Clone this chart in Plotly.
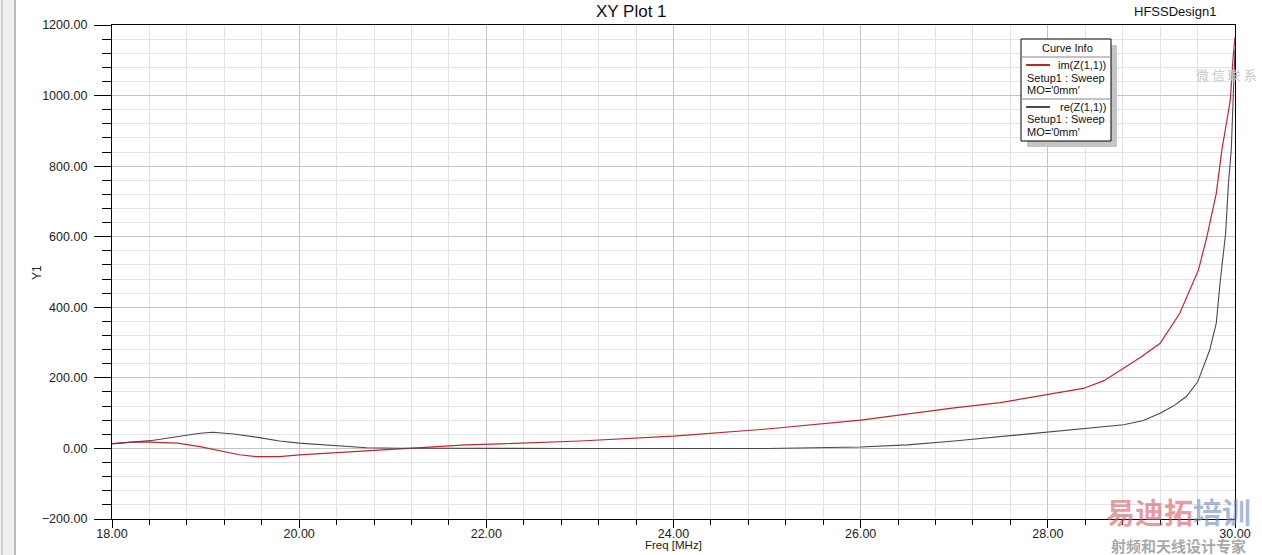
import plotly.graph_objects as go

# ---- data ----
freq_im = [18.0, 18.2, 18.4, 18.7, 18.94, 19.11, 19.36, 19.54, 19.79, 20.0, 20.37, 20.72,
           21.08, 21.43, 21.79, 22.15, 23.0, 24.0, 25.0, 26.0, 27.0, 27.49, 28.0, 28.38,
           28.6, 28.8, 29.0, 29.2, 29.41, 29.61, 29.7, 29.8, 29.86, 29.92, 29.95, 29.98, 30.0]
im_z = [14, 18, 18, 15, 5, -5, -18, -23, -23, -18, -12, -6,
        0, 5, 10, 13, 21, 35, 55, 80, 115, 130, 152, 170,
        192, 225, 260, 298, 383, 506, 600, 723, 846, 940, 988, 1110, 1165]

freq_re = [18.0, 18.2, 18.41, 18.69, 18.94, 19.08, 19.3, 19.54, 19.79, 20.0, 20.37, 20.72,
           21.08, 21.5, 22.0, 23.0, 24.0, 25.0, 26.0, 26.5, 27.0, 27.49, 28.0, 28.4, 28.81,
           29.02, 29.2, 29.34, 29.48, 29.6, 29.73, 29.8, 29.84, 29.9, 29.93, 29.96, 29.98, 30.0]
re_z = [13, 17, 22, 33, 43, 46, 41, 32, 21, 15, 8, 2,
        0.5, 0, 0, 0, 0, 0, 4, 10, 21, 33, 46, 56, 67,
        79, 100, 120, 147, 188, 279, 355, 468, 610, 751, 846, 988, 1130]

x_ticks = [18, 20, 22, 24, 26, 28, 30]
y_ticks = [-200, 0, 200, 400, 600, 800, 1000, 1200]

IM_COLOR = "#c0262d"
RE_COLOR = "#56405e"
FONT = "Liberation Sans, Arial, sans-serif"

W, H = 1262, 555
L, R, T, B = 112, 1235, 25, 519   # plot area in pixels


def px(x):
    return (x - L) / (R - L)


def py(y):
    return (B - y) / (B - T)


fig = go.Figure()
fig.add_trace(go.Scatter(x=freq_im, y=im_z, mode="lines", name="im(Z(1,1))",
                         line=dict(color=IM_COLOR, width=1.2), showlegend=False))
fig.add_trace(go.Scatter(x=freq_re, y=re_z, mode="lines", name="re(Z(1,1))",
                         line=dict(color=RE_COLOR, width=1.1), showlegend=False))

fig.update_layout(
    width=W, height=H,
    margin=dict(l=L, r=W - R, t=T, b=H - B, pad=0, autoexpand=False),
    paper_bgcolor="white", plot_bgcolor="white",
    font=dict(family=FONT, size=12, color="#222222"),
    xaxis=dict(range=[18, 30], tickvals=x_ticks, tickformat=".2f", automargin=False,
               showline=True, linecolor="black", linewidth=1.3, mirror=True,
               ticks="outside", ticklen=8, tickcolor="black", tickwidth=1,
               showgrid=True, gridcolor="#c4c4c4", gridwidth=1, zeroline=False,
               tickfont=dict(size=12.5, color="#222"), ticklabelstandoff=-5,
               minor=dict(dtick=0.4, tick0=18, ticks="outside", ticklen=5, tickcolor="black",
                          showgrid=True, gridcolor="#e4e4e4", gridwidth=1)),
    yaxis=dict(range=[-200, 1200], tickvals=y_ticks, tickformat=".2f", automargin=False,
               showline=True, linecolor="black", linewidth=1.3, mirror=True,
               ticks="outside", ticklen=17, tickcolor="black", tickwidth=1,
               showgrid=True, gridcolor="#c4c4c4", gridwidth=1, zeroline=False,
               tickfont=dict(size=12.5, color="#222"), ticklabelstandoff=4,
               minor=dict(dtick=40, tick0=-200, ticks="outside", ticklen=9, tickcolor="black",
                          showgrid=True, gridcolor="#e4e4e4", gridwidth=1)),
)

shapes = []
annotations = []

# left window panel
shapes.append(dict(type="rect", xref="paper", yref="paper", x0=px(0), x1=px(15), y0=py(0), y1=py(H),
                   fillcolor="#f0f0f0", line=dict(width=0), layer="below"))
shapes.append(dict(type="line", xref="paper", yref="paper", x0=px(2), x1=px(2), y0=py(0), y1=py(H),
                   line=dict(color="#b0b0b0", width=1)))
shapes.append(dict(type="line", xref="paper", yref="paper", x0=px(15), x1=px(15), y0=py(0), y1=py(H),
                   line=dict(color="#a8a8a8", width=1.5)))


def text(t, x, y, size=12, color="#111", xanchor="center", **kw):
    annotations.append(dict(text=t, xref="paper", yref="paper", x=px(x), y=py(y), showarrow=False,
                            font=dict(size=size, color=color, **kw.pop("fontkw", {})),
                            xanchor=xanchor, yanchor="middle", **kw))


# titles
text("XY Plot 1", 631, 11, size=17)
text("HFSSDesign1", 1132, 11, size=13, xanchor="left")
text("Freq [MHz]", 673, 545, size=11.5, color="#222")
text("Y1", 37, 273, size=12, color="#222", textangle=-90)

# legend box ("Curve Info")
bx0, bx1, by0, by1 = 1021, 1111, 39, 141
shapes.append(dict(type="rect", xref="paper", yref="paper", x0=px(bx0 + 6), x1=px(bx1 + 6),
                   y0=py(by0 + 6), y1=py(by1 + 6), fillcolor="#c4c4c4", line=dict(width=0)))
shapes.append(dict(type="rect", xref="paper", yref="paper", x0=px(bx0), x1=px(bx1),
                   y0=py(by0), y1=py(by1), fillcolor="white", line=dict(color="black", width=1)))
for yy in (57, 99):
    shapes.append(dict(type="line", xref="paper", yref="paper", x0=px(bx0), x1=px(bx1),
                       y0=py(yy), y1=py(yy), line=dict(color="#888", width=1)))
shapes.append(dict(type="line", xref="paper", yref="paper", x0=px(1026), x1=px(1050),
                   y0=py(65), y1=py(65), line=dict(color=IM_COLOR, width=2)))
shapes.append(dict(type="line", xref="paper", yref="paper", x0=px(1026), x1=px(1050),
                   y0=py(107), y1=py(107), line=dict(color=RE_COLOR, width=2)))

text("Curve Info", 1067, 48, size=11)
for base, name in ((65, "im(Z(1,1))"), (107, "re(Z(1,1))")):
    text(name, 1108, base, size=11, xanchor="right")
    text("Setup1 : Sweep", 1025, base + 12.5, size=11, xanchor="left")
    text("MO='0mm'", 1025, base + 25, size=11, xanchor="left")

# watermark texts
text("微 信 联 系", 1226, 75, size=13, color="#c8c8c8", fontkw=dict(family="Noto Sans CJK SC"))
text("<b><span style='color:rgba(214,90,100,0.6)'>易迪拓</span>"
     "<span style='color:rgba(110,140,190,0.6)'>培训</span></b>",
     1178, 511, size=29, fontkw=dict(family="Noto Sans CJK SC"))
text("<b>射频和天线设计专家</b>", 1178, 545, size=15, color="rgba(140,140,140,0.75)",
     fontkw=dict(family="Noto Sans CJK SC"))

fig.update_layout(shapes=shapes, annotations=annotations)
fig.write_html("out.html", config={"displayModeBar": False},
               post_script="document.body.style.margin='0px';")
